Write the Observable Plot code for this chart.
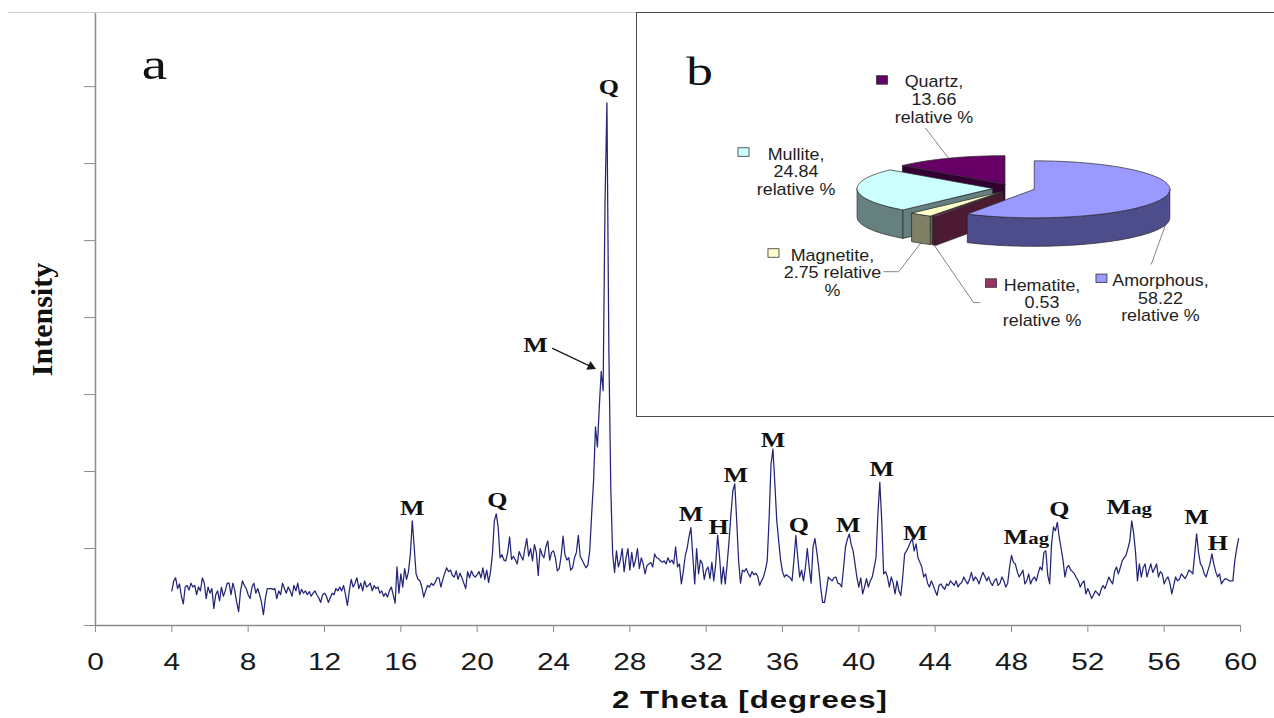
<!DOCTYPE html>
<html>
<head>
<meta charset="utf-8">
<script src="https://cdn.jsdelivr.net/npm/d3@7"></script>
<script src="https://cdn.jsdelivr.net/npm/@observablehq/plot@0.6"></script>
<style>
  html, body { margin: 0; padding: 0; background: #fff; overflow: hidden; }
  #figure { position: relative; width: 1274px; height: 718px; background: #fff; }
  #figure > * { position: absolute; }
  #topRule { left: 8px; top: 12px; width: 629px; height: 0; border-top: 1.5px solid #cfcfcf; }
  #insetBox { left: 636px; top: 12px; width: 660px; height: 405px; box-sizing: border-box;
              border: 1.5px solid #4a4a4a; background: #fff; }
</style>
</head>
<body>
<div id="figure"></div>
<script>
// ---------------------------------------------------------------------------
// (a) XRD pattern: intensity (a.u.) sampled every 0.1 deg 2-theta from 4.0 deg,
// one row per degree.
// ---------------------------------------------------------------------------
const startAngle = 4.0;
const stepSize = 0.1;
const intensityRows = [
  /* 4 */ [0.45, 0.58, 0.62, 0.48, 0.54, 0.38, 0.28, 0.50, 0.52, 0.46],
  /* 5 */ [0.55, 0.50, 0.52, 0.40, 0.50, 0.45, 0.62, 0.55, 0.35, 0.50],
  /* 6 */ [0.42, 0.48, 0.22, 0.40, 0.45, 0.32, 0.50, 0.38, 0.45, 0.55],
  /* 7 */ [0.55, 0.40, 0.55, 0.45, 0.30, 0.18, 0.45, 0.58, 0.52, 0.48],
  /* 8 */ [0.40, 0.35, 0.50, 0.55, 0.42, 0.48, 0.40, 0.30, 0.14, 0.35],
  /* 9 */ [0.48, 0.48, 0.48, 0.47, 0.48, 0.35, 0.45, 0.40, 0.55, 0.48],
  /*10 */ [0.42, 0.50, 0.45, 0.38, 0.52, 0.45, 0.55, 0.40, 0.47, 0.42],
  /*11 */ [0.45, 0.40, 0.44, 0.38, 0.42, 0.45, 0.40, 0.36, 0.30, 0.40],
  /*12 */ [0.42, 0.38, 0.30, 0.36, 0.42, 0.40, 0.48, 0.45, 0.50, 0.45],
  /*13 */ [0.52, 0.40, 0.26, 0.45, 0.60, 0.50, 0.55, 0.62, 0.48, 0.55],
  /*14 */ [0.45, 0.58, 0.50, 0.52, 0.55, 0.45, 0.52, 0.48, 0.50, 0.42],
  /*15 */ [0.45, 0.38, 0.42, 0.37, 0.45, 0.50, 0.40, 0.29, 0.76, 0.42],
  /*16 */ [0.67, 0.50, 0.74, 0.60, 0.70, 0.93, 1.36, 1.02, 0.67, 0.60],
  /*17 */ [0.58, 0.50, 0.37, 0.45, 0.52, 0.50, 0.55, 0.52, 0.56, 0.62],
  /*18 */ [0.62, 0.50, 0.60, 0.68, 0.75, 0.70, 0.72, 0.65, 0.63, 0.71],
  /*19 */ [0.60, 0.68, 0.62, 0.55, 0.48, 0.70, 0.62, 0.71, 0.65, 0.63],
  /*20 */ [0.66, 0.70, 0.62, 0.75, 0.60, 0.72, 0.56, 0.70, 0.93, 1.36],
  /*21 */ [1.45, 1.28, 0.88, 0.92, 0.85, 0.84, 0.95, 1.15, 0.86, 0.90],
  /*22 */ [0.85, 0.80, 0.96, 0.90, 0.85, 1.00, 1.13, 0.90, 1.00, 0.84],
  /*23 */ [1.05, 0.95, 0.65, 1.00, 0.92, 0.88, 1.02, 1.10, 0.85, 0.95],
  /*24 */ [0.97, 0.88, 0.71, 0.74, 0.90, 1.16, 0.92, 0.85, 0.88, 0.72],
  /*25 */ [0.75, 0.88, 0.95, 1.17, 0.90, 0.85, 0.80, 0.75, 0.78, 0.97],
  /*26 */ [1.45, 1.88, 2.58, 2.32, 2.84, 3.30, 3.05, 5.50, 6.79, 3.60],
  /*27 */ [1.80, 0.93, 0.69, 0.97, 0.76, 0.85, 1.00, 0.70, 0.88, 1.00],
  /*28 */ [0.72, 0.95, 0.76, 0.85, 1.00, 0.74, 0.88, 0.80, 0.67, 0.78],
  /*29 */ [0.80, 0.82, 0.76, 0.93, 0.88, 0.87, 0.84, 0.82, 0.84, 0.80],
  /*30 */ [0.88, 0.82, 0.85, 0.80, 1.02, 0.76, 0.80, 0.54, 0.70, 0.90],
  /*31 */ [1.00, 1.15, 1.27, 0.90, 0.54, 1.00, 0.67, 0.85, 0.80, 0.60],
  /*32 */ [0.72, 0.76, 0.61, 0.82, 0.58, 0.80, 1.17, 0.90, 0.54, 0.76],
  /*33 */ [0.54, 0.80, 1.10, 1.45, 1.75, 1.84, 1.36, 0.84, 0.55, 0.72],
  /*34 */ [0.70, 0.74, 0.68, 0.63, 0.70, 0.66, 0.68, 0.64, 0.52, 0.58],
  /*35 */ [0.63, 0.72, 0.84, 1.40, 2.10, 2.29, 1.84, 1.36, 1.10, 0.85],
  /*36 */ [0.70, 0.63, 0.66, 0.64, 0.62, 0.58, 0.85, 1.17, 0.88, 0.63],
  /*37 */ [0.72, 0.58, 0.75, 1.00, 0.75, 0.55, 1.02, 1.13, 0.95, 0.75],
  /*38 */ [0.50, 0.30, 0.30, 0.45, 0.63, 0.60, 0.58, 0.62, 0.63, 0.55],
  /*39 */ [0.54, 0.50, 0.75, 1.02, 1.12, 1.19, 1.05, 0.97, 0.80, 0.62],
  /*40 */ [0.50, 0.62, 0.41, 0.50, 0.61, 0.50, 0.58, 0.63, 0.75, 0.88],
  /*41 */ [1.45, 1.86, 1.36, 0.67, 0.70, 0.63, 0.50, 0.63, 0.55, 0.41],
  /*42 */ [0.58, 0.45, 0.39, 0.63, 0.93, 0.97, 1.02, 1.08, 1.13, 0.97],
  /*43 */ [1.06, 0.88, 0.82, 0.76, 0.63, 0.67, 0.55, 0.50, 0.58, 0.52],
  /*44 */ [0.45, 0.39, 0.52, 0.54, 0.50, 0.47, 0.54, 0.52, 0.58, 0.55],
  /*45 */ [0.52, 0.58, 0.50, 0.54, 0.56, 0.63, 0.58, 0.54, 0.60, 0.69],
  /*46 */ [0.58, 0.63, 0.60, 0.54, 0.62, 0.69, 0.64, 0.58, 0.63, 0.56],
  /*47 */ [0.52, 0.58, 0.61, 0.52, 0.55, 0.63, 0.58, 0.50, 0.55, 0.76],
  /*48 */ [0.91, 0.82, 0.80, 0.70, 0.63, 0.67, 0.72, 0.54, 0.58, 0.67],
  /*49 */ [0.54, 0.60, 0.63, 0.58, 0.68, 0.76, 0.72, 0.95, 0.97, 0.65],
  /*50 */ [0.54, 1.06, 1.28, 1.23, 1.34, 1.15, 1.00, 0.85, 0.63, 0.75],
  /*51 */ [0.78, 0.72, 0.70, 0.67, 0.62, 0.58, 0.50, 0.55, 0.58, 0.41],
  /*52 */ [0.48, 0.42, 0.35, 0.40, 0.45, 0.42, 0.39, 0.47, 0.52, 0.48],
  /*53 */ [0.55, 0.63, 0.58, 0.54, 0.70, 0.76, 0.67, 0.75, 0.84, 0.88],
  /*54 */ [0.91, 1.00, 1.10, 1.36, 1.20, 0.95, 0.58, 0.80, 0.63, 0.75],
  /*55 */ [0.80, 0.63, 0.72, 0.80, 0.69, 0.74, 0.80, 0.63, 0.70, 0.67],
  /*56 */ [0.54, 0.60, 0.63, 0.55, 0.41, 0.52, 0.63, 0.58, 0.60, 0.67],
  /*57 */ [0.64, 0.61, 0.66, 0.72, 0.70, 0.67, 0.93, 1.19, 0.95, 0.80],
  /*58 */ [0.76, 0.67, 0.63, 0.72, 0.80, 0.93, 0.80, 0.70, 0.63, 0.67],
  /*59 */ [0.54, 0.58, 0.61, 0.60, 0.58, 0.58, 0.58, 0.84, 1.00, 1.13]
];

// Axis ticks
const xTicks = [0, 4, 8, 12, 16, 20, 24, 28, 32, 36, 40, 44, 48, 52, 56, 60];
const yTicks = [0, 1, 2, 3, 4, 5, 6, 7];
const yMax = 7.95;

// Phase assignments of the reflections (M mullite, Q quartz, H hematite, Mag magnetite)
const peakPhases = ["M", "Q", "Q", "M", "H", "M", "M", "Q", "M", "M", "M", "Mag", "Q", "Mag", "M", "H"];
const peakThetas = [16.6, 21.0, 26.8, 31.2, 32.6, 33.5, 35.5, 36.7, 39.5, 41.1, 42.8, 49.8, 50.4, 54.3, 57.7, 58.5];
// Mullite shoulder on the main quartz reflection, labelled with an arrow
const shoulderPhase = "M";
const shoulderTheta = 26.5;

// ---------------------------------------------------------------------------
// (b) Phase composition, relative %
// ---------------------------------------------------------------------------
const phaseNames = ["Amorphous", "Hematite", "Magnetite", "Mullite", "Quartz"];
const phaseShares = [58.22, 0.53, 2.75, 24.84, 13.66];
const phaseTopColors = ["#9999ff", "#993366", "#ffffcc", "#ccffff", "#660066"];
const phaseSideColors = ["#4d4d8c", "#4d1a33", "#808066", "#668080", "#330033"];

// ---------------------------------------------------------------------------
// Layout and styling
// ---------------------------------------------------------------------------
const serif = "'Liberation Serif', 'Times New Roman', serif";
const sans = "'Liberation Sans', Arial, sans-serif";
const axisGray = "#8c8c8c";
const traceColor = "#24247a";
const textStretch = 1.3;      // the artwork's lettering is set wide
const insetTextStretch = 1.12;

// pixel nudges of each peak label relative to its peak
const peakLabelNudges = [[0,-12],[1,-13],[2,-15],[0,-13],[1,-8],[1,-8],[0,-9],[3,-10],
                         [-1,-8],[2,-13],[3,-5],[-30,-13],[2,-13],[-13,-13],[0,-16],[6,-10]];
const shoulderCallout = {labelTheta: 23.06, labelIntensity: 3.64, tailTheta: 23.95, tailIntensity: 3.60};

// 3-D pie geometry inside the inset (pixels), exploded by a fraction of the radius
const pieLayout = {cx: 376.3, cy: 174.7, rx: 135.6, ry: 28.5, depth: 28.5, explode: 0.156};
// label block (first line centre) relative to each slice's leader anchor
const pieLabelOffsets = [[-4.9, 53.7], [107.9, 38.5], [-88.2, 10.3], [-61.4, -66.4], [-14.6, -77.8]];
const pieKeyOffsets = [-58.5, -50.5, -58.5, -52, -51.5];
const pieLeaderBends = [[[-14, 39]], [[39.4, 57.5], [45.4, 57.5]], [[-22, 28.5], [-37, 28.5]], null, [[-23, -30]]];
const pieLabelWrapTight = [false, false, true, false, false];

// ---------------------------------------------------------------------------
// Data table
// ---------------------------------------------------------------------------
const xrd = intensityRows.flat().map((v, i) => ({theta: +(startAngle + i * stepSize).toFixed(1), intensity: v}));
const intensityAt = (theta) => xrd[Math.round((theta - startAngle) / stepSize)].intensity;

// ---------------------------------------------------------------------------
// Panel (a)
// ---------------------------------------------------------------------------
const peakLabelMarks = peakPhases.flatMap((phase, i) => {
  const row = {theta: peakThetas[i], intensity: intensityAt(peakThetas[i])};
  const [dx, dy] = peakLabelNudges[i];
  const common = {x: "theta", y: "intensity", fontFamily: serif, fontWeight: "bold", fill: "#111", lineAnchor: "middle"};
  const marks = [Plot.text([row], {...common, text: () => phase.charAt(0), dx, dy, fontSize: 20})];
  if (phase.length > 1) {
    marks.push(Plot.text([row], {...common, text: () => phase.slice(1), dx: dx + 12.5, dy: dy + 1, fontSize: 16, textAnchor: "start"}));
  }
  return marks;
});

const shoulderRow = {
  theta: shoulderTheta, intensity: intensityAt(shoulderTheta),
  ...shoulderCallout
};

const mainPlot = Plot.plot({
  width: 1274,
  height: 718,
  marginLeft: 95,
  marginRight: 34,
  marginTop: 13,
  marginBottom: 93,
  style: {fontFamily: sans, fontSize: "23px", color: "#1a1a1a", background: "transparent", overflow: "visible"},
  x: {domain: [0, 60], ticks: xTicks, tickSize: 7, tickPadding: 21, label: null},
  y: {domain: [0, yMax], ticks: yTicks, tickSize: 11, tickFormat: () => "", label: null},
  marks: [
    Plot.ruleY([0], {stroke: axisGray, strokeWidth: 1.5}),
    Plot.ruleX([0], {stroke: axisGray, strokeWidth: 1.5}),
    Plot.line(xrd, {x: "theta", y: "intensity", stroke: traceColor, strokeWidth: 1.25, strokeLinejoin: "round"}),
    ...peakLabelMarks,
    // callout arrow: thin shaft plus a solid head
    Plot.arrow([shoulderRow], {
      x1: "tailTheta", y1: "tailIntensity", x2: "theta", y2: "intensity",
      insetEnd: 13, headLength: 0, stroke: "#1a1a1a", strokeWidth: 1.2
    }),
    Plot.dot([shoulderRow], {
      x: "theta", y: "intensity", symbol: "triangle", r: 3.6, rotate: 115,
      dx: -10.3, dy: -4.9, fill: "#1a1a1a", stroke: "none"
    }),
    Plot.text([shoulderRow], {
      x: "labelTheta", y: "labelIntensity", text: () => shoulderPhase,
      fontFamily: serif, fontWeight: "bold", fontSize: 20, fill: "#111", lineAnchor: "middle"
    }),
    Plot.text(["a"], {frameAnchor: "top-left", dx: 59, dy: 51.5, fontFamily: serif, fontSize: 44,
                      textAnchor: "middle", lineAnchor: "middle", fill: "#111"}),
    Plot.text(["Intensity"], {frameAnchor: "left", rotate: -90, dx: -53, fontFamily: serif, fontWeight: "bold",
                              fontSize: 30, textAnchor: "middle", lineAnchor: "middle", fill: "#111"}),
    Plot.text(["2 Theta [degrees]"], {frameAnchor: "bottom", dx: 82, dy: 74.4, fontFamily: sans, fontWeight: "bold",
                                      fontSize: 24, textAnchor: "middle", lineAnchor: "middle", fill: "#111"})
  ]
});

// ---------------------------------------------------------------------------
// Panel (b): exploded 3-D pie built from the phase shares
// ---------------------------------------------------------------------------
const {cx, cy, rx, ry, depth, explode} = pieLayout;
const slices = d3.pie().sort(null).value((d) => d)(phaseShares);
const midAngle = (s) => (s.startAngle + s.endAngle) / 2;
const shiftOf = (s) => [explode * rx * Math.sin(midAngle(s)), -explode * ry * Math.cos(midAngle(s))];
const rimPoint = (o, t, drop = 0) => [cx + o[0] + rx * Math.sin(t), cy + o[1] - ry * Math.cos(t) + drop];
const hubPoint = (o, drop = 0) => [cx + o[0], cy + o[1] + drop];
const rimArc = (o, a, b, drop = 0) => {
  const n = Math.max(2, Math.ceil((b - a) / (Math.PI / 120)));
  return d3.range(n + 1).map((i) => rimPoint(o, a + (b - a) * i / n, drop));
};
const cutFace = (o, t) => [hubPoint(o), rimPoint(o, t), rimPoint(o, t, depth), hubPoint(o, depth), hubPoint(o)];

const walls = [];
const tops = [];
slices.forEach((s, i) => {
  const o = shiftOf(s);
  tops.push({fill: phaseTopColors[i], pts: [hubPoint(o), ...rimArc(o, s.startAngle, s.endAngle), hubPoint(o)]});
  // curved wall: only the half that faces the viewer
  const lo = Math.max(s.startAngle, Math.PI / 2);
  const hi = Math.min(s.endAngle, 3 * Math.PI / 2);
  if (hi > lo) {
    const upper = rimArc(o, lo, hi);
    const lower = rimArc(o, lo, hi, depth).reverse();
    walls.push({fill: phaseSideColors[i], pts: [...upper, ...lower, upper[0]]});
  }
  // flat cut faces that turn toward the viewer
  if (Math.sin(s.startAngle) < -1e-6) walls.push({fill: phaseSideColors[i], pts: cutFace(o, s.startAngle)});
  if (Math.sin(s.endAngle) > 1e-6) walls.push({fill: phaseSideColors[i], pts: cutFace(o, s.endAngle)});
});
walls.sort((a, b) => d3.max(a.pts, (p) => p[1]) - d3.max(b.pts, (p) => p[1]));
const polygonRows = [...walls, ...tops].flatMap((poly, id) =>
  poly.pts.map(([x, y]) => ({id, x, y, fill: poly.fill})));

// leader anchors: mid-angle of each slice, on the lower rim when it faces the viewer
const anchors = slices.map((s) => {
  const m = midAngle(s);
  return rimPoint(shiftOf(s), m, Math.cos(m) < 0 ? depth : 0);
});

const leaderRows = [];
pieLeaderBends.forEach((bends, i) => {
  if (!bends) return;
  const [ax, ay] = anchors[i];
  leaderRows.push({id: i, x: ax, y: ay});
  bends.forEach(([bx, by]) => leaderRows.push({id: i, x: ax + bx, y: ay + by}));
});

const labelRows = slices.map((s, i) => {
  const [ax, ay] = anchors[i];
  const [ox, oy] = pieLabelOffsets[i];
  const value = phaseShares[i].toFixed(2);
  const text = pieLabelWrapTight[i]
    ? `${phaseNames[i]},\n${value} relative\n%`
    : `${phaseNames[i]},\n${value}\nrelative %`;
  return {x: ax + ox, y: ay + oy, text, fill: phaseTopColors[i], keyX: ax + ox + pieKeyOffsets[i]};
});
const keyW = 11, keyH = 8.5;

const insetPlot = Plot.plot({
  width: 640,
  height: 403,
  margin: 0,
  x: {type: "linear", domain: [0, 640], range: [0, 640], axis: null},
  y: {type: "linear", domain: [0, 403], range: [0, 403], axis: null},
  color: {type: "identity"},
  style: {background: "transparent", overflow: "visible", fontFamily: sans},
  marks: [
    Plot.line(leaderRows, {x: "x", y: "y", z: "id", stroke: "#858585", strokeWidth: 1, curve: "linear"}),
    Plot.line(polygonRows, {x: "x", y: "y", z: "id", fill: "fill", stroke: "#262626", strokeWidth: 0.7,
                            strokeLinejoin: "round", curve: "linear"}),
    Plot.rect(labelRows, {x1: (d) => d.keyX - keyW / 2, x2: (d) => d.keyX + keyW / 2,
                          y1: (d) => d.y - keyH / 2, y2: (d) => d.y + keyH / 2,
                          fill: "fill", stroke: "#333", strokeWidth: 0.8}),
    Plot.text(labelRows, {x: "x", y: (d) => d.y - 5.6, text: "text", fontFamily: sans, fontSize: 16,
                          lineHeight: 1.11, lineAnchor: "top", textAnchor: "middle", fill: "#1e1e1e"}),
    Plot.text(["b"], {frameAnchor: "top-left", dx: 62, dy: 58, fontFamily: serif, fontSize: 41,
                      textAnchor: "middle", lineAnchor: "middle", fill: "#111"})
  ]
});

// ---------------------------------------------------------------------------
// Wide lettering and grey axis ticks
// ---------------------------------------------------------------------------
function widenText(svg, factorFor) {
  svg.querySelectorAll("text").forEach((t) => {
    const tr = t.getAttribute("transform") || "";
    if (/rotate/.test(tr)) return;
    const sx = factorFor(t);
    const x = +(t.getAttribute("x") || 0);
    t.setAttribute("transform", `${tr} translate(${x},0) scale(${sx},1) translate(${-x},0)`.trim());
  });
}
widenText(mainPlot, (t) => {
  if (t.textContent === "2 Theta [degrees]") t.setAttribute("letter-spacing", "0.8");
  return textStretch;
});
widenText(insetPlot, (t) => (t.textContent === "b" ? textStretch : insetTextStretch));
mainPlot.querySelectorAll('[aria-label="x-axis tick"], [aria-label="y-axis tick"], .tick line')
  .forEach((el) => el.setAttribute("stroke", axisGray));

// ---------------------------------------------------------------------------
// Assemble the figure
// ---------------------------------------------------------------------------
const figure = document.getElementById("figure");
mainPlot.style.left = "0px";
mainPlot.style.top = "0px";
figure.append(mainPlot);
const topRule = document.createElement("div");
topRule.id = "topRule";
figure.append(topRule);
const insetBox = document.createElement("div");
insetBox.id = "insetBox";
figure.append(insetBox);
insetPlot.style.left = "637px";
insetPlot.style.top = "13px";
figure.append(insetPlot);
</script>
</body>
</html>
